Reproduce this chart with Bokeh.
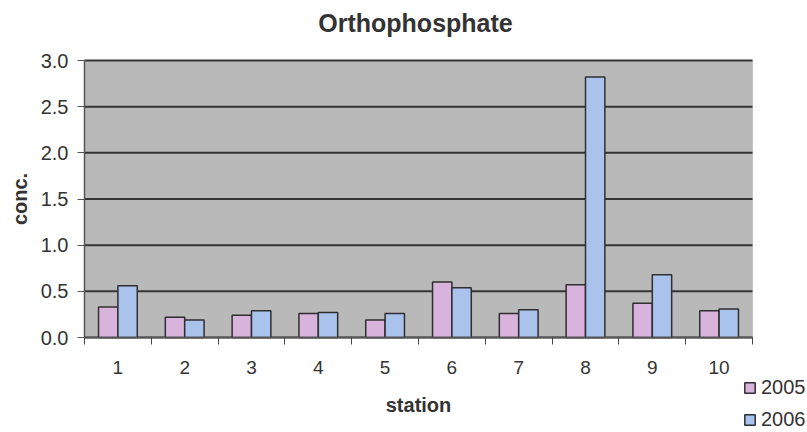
from bokeh.plotting import figure
from bokeh.models import (ColumnDataSource, Range1d, FixedTicker, Legend, LegendItem,
                          Label, BoxAnnotation)
from bokeh.transform import dodge
from bokeh.embed import file_html
from bokeh.resources import INLINE

# Orthophosphate concentration per station
stations = [1, 2, 3, 4, 5, 6, 7, 8, 9, 10]
conc_2005 = [0.33, 0.22, 0.24, 0.26, 0.19, 0.60, 0.26, 0.57, 0.37, 0.29]
conc_2006 = [0.56, 0.19, 0.29, 0.27, 0.26, 0.54, 0.30, 2.82, 0.68, 0.31]
y_ticks = [0.0, 0.5, 1.0, 1.5, 2.0, 2.5, 3.0]
series_names = ["2005", "2006"]

FONT = "Liberation Sans"
TEXT = "#333333"
W, H = 807, 432

# pixel margins around the plotting area (the canvas itself is the frame,
# so that the legend below the plot area is not clipped)
M_LEFT, M_RIGHT, M_TOP, M_BOTTOM = 84, 55, 60, 95
x_lo, x_hi = stations[0] - 0.5, stations[-1] + 0.5
y_lo, y_hi = y_ticks[0], y_ticks[-1]
px_x = (W - M_LEFT - M_RIGHT) / (x_hi - x_lo)
px_y = (H - M_TOP - M_BOTTOM) / (y_hi - y_lo)

src = ColumnDataSource(dict(x=stations, a=conc_2005, b=conc_2006))

p = figure(width=W, height=H, output_backend="svg", toolbar_location=None,
           title=None,
           x_range=Range1d(x_lo - M_LEFT / px_x, x_hi + M_RIGHT / px_x),
           y_range=Range1d(y_lo - M_BOTTOM / px_y, y_hi + M_TOP / px_y),
           min_border=0)
p.outline_line_color = None
p.background_fill_color = "white"
p.border_fill_color = "white"
p.xgrid.grid_line_color = None
p.ygrid.grid_line_color = None

# plot area
p.add_layout(BoxAnnotation(left=x_lo, right=x_hi, bottom=y_lo, top=y_hi,
                           fill_color="#b9b9b9", fill_alpha=1.0,
                           line_color="#8a8a8a", line_width=1, level="underlay"))

# horizontal grid lines across the plot area
p.segment(x0=[x_lo] * len(y_ticks), x1=[x_hi] * len(y_ticks), y0=y_ticks, y1=y_ticks,
          line_color="#353535", line_width=2)

bw = 0.29
r1 = p.vbar(x=dodge("x", -bw / 2, range=p.x_range), top="a", width=bw, source=src,
            fill_color="#d8b4dc", line_color="#2f2f2f", line_width=1.5)
r2 = p.vbar(x=dodge("x", bw / 2, range=p.x_range), top="b", width=bw, source=src,
            fill_color="#a9c3ec", line_color="#2f2f2f", line_width=1.5)

# y axis pinned to the left edge of the plot area
p.yaxis.fixed_location = x_lo
p.yaxis.bounds = (y_lo, y_hi)
p.yaxis.ticker = FixedTicker(ticks=y_ticks)
p.yaxis.major_label_overrides = {t: f"{t:.1f}" for t in y_ticks}
p.yaxis.axis_label = "conc."
p.yaxis.minor_tick_line_color = None
p.yaxis.major_tick_in = 0
p.yaxis.major_tick_out = 7
p.yaxis.major_label_standoff = 9

# x axis pinned to zero: labels at station centres, tick marks between stations
p.xaxis.fixed_location = y_lo
p.xaxis.bounds = (x_lo, x_hi)
p.xaxis.ticker = FixedTicker(ticks=stations,
                             minor_ticks=[s - 0.5 for s in stations] + [x_hi])
p.xaxis.axis_label = "station"
p.xaxis.minor_tick_in = 0
p.xaxis.minor_tick_out = 7
p.xaxis.minor_tick_line_color = "#444444"
p.xaxis.major_label_standoff = 16

for ax in (p.xaxis, p.yaxis):
    ax.axis_line_color = "#555555"
    ax.axis_line_width = 1.5
    ax.major_label_text_font = FONT
    ax.major_label_text_color = TEXT
    ax.axis_label_text_font = FONT
    ax.axis_label_text_font_size = "20px"
    ax.axis_label_text_font_style = "bold"
    ax.axis_label_text_color = TEXT

p.xaxis.major_label_text_font_size = "19px"
p.yaxis.major_label_text_font_size = "20px"
p.yaxis.major_tick_line_color = "#555555"
p.xaxis.major_tick_line_color = None
p.yaxis.axis_label_standoff = 7
p.xaxis.axis_label_standoff = 17

# chart title
p.add_layout(Label(x=415, y=H - 22, x_units="screen", y_units="screen",
                   text="Orthophosphate", text_font=FONT, text_font_size="25px",
                   text_font_style="bold", text_color=TEXT,
                   text_align="center", text_baseline="middle"))

# legend below the plot area, at the right
legend = Legend(items=[LegendItem(label=series_names[0], renderers=[r1]),
                       LegendItem(label=series_names[1], renderers=[r2])],
                location=(743, 1), background_fill_alpha=0,
                border_line_color=None, glyph_width=13, glyph_height=13,
                label_text_font=FONT, label_text_font_size="20px",
                label_text_color=TEXT, spacing=9, label_standoff=5,
                padding=0, margin=0)
p.add_layout(legend, "center")

open("out.html", "w").write(file_html(p, INLINE))
